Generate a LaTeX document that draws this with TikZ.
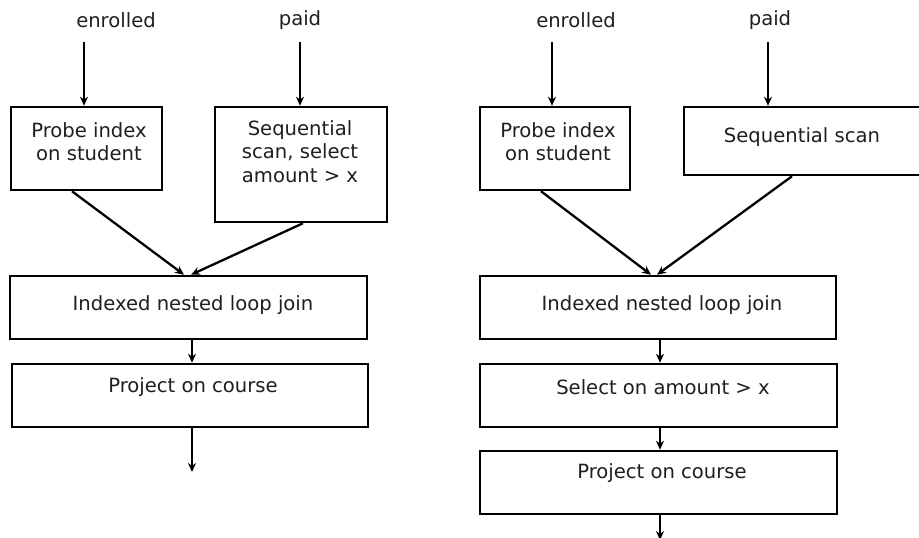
\documentclass[tikz,border=0pt]{standalone}
\usepackage{fontspec}
\setmainfont{DejaVu Sans}
\usetikzlibrary{arrows.meta}
\begin{document}
\begin{tikzpicture}[x=1pt,y=-1pt,
  box/.style={draw=black, line width=2.5pt, inner sep=0pt, rectangle},
  lbl/.style={inner sep=0pt, align=center, font=\fontsize{19.6}{23.5}\selectfont, text=black!88},
  arr/.style={draw=black, line width=2.3pt, -{Stealth[length=9pt,width=8pt]}}]
\useasboundingbox (0,0) rectangle (919,538);
\clip (0,0) rectangle (919,538);
\fill[white] (0,0) rectangle (919,538);

% ---------- left plan ----------
\node[lbl] (en1) at (116,20) {enrolled};
\node[lbl] (pa1) at (300,20) {paid};
\coordinate (en1s) at (84,42);
\coordinate (pa1s) at (300,42);

\node[box, minimum width=151pt, minimum height=83pt] (probe1) at (86.5,148.5) {};
\node[lbl] (probe1t) at (89,141.5) {Probe index\\on student};
\node[box, minimum width=172pt, minimum height=115pt] (seq1) at (301,164.5) {};
\node[lbl] (seq1t) at (300,151.5) {Sequential\\scan, select\\amount > x};
\node[box, minimum width=357pt, minimum height=63pt] (join1) at (188.5,307.5) {};
\node[lbl] (join1t) at (193,305) {Indexed nested loop join};
\node[box, minimum width=356pt, minimum height=63pt] (proj1) at (190,395.5) {};
\node[lbl] (proj1t) at (193,387) {Project on course};
\coordinate (out1) at (192,472);

\draw[arr] (en1s) -- (en1s |- probe1.north);
\draw[arr] (pa1s) -- (pa1s |- seq1.north);
\draw[arr] (probe1.south -| 72,0) -- (join1.north -| 184,0);
\draw[arr] (seq1.south -| 303,0) -- (join1.north -| 191,0);
\draw[arr] (join1.south -| 192,0) -- (proj1.north -| 192,0);
\draw[arr] (proj1.south -| 192,0) -- (out1);

% ---------- right plan ----------
\node[lbl] (en2) at (576,20) {enrolled};
\node[lbl] (pa2) at (770,20) {paid};
\coordinate (en2s) at (552,42);
\coordinate (pa2s) at (768,42);

\node[box, minimum width=150pt, minimum height=83pt] (probe2) at (555,148.5) {};
\node[lbl] (probe2t) at (558,141.5) {Probe index\\on student};
\node[box, minimum width=250pt, minimum height=68pt] (seq2) at (809,141) {};
\node[lbl] (seq2t) at (802,137) {Sequential scan};
\node[box, minimum width=356pt, minimum height=63pt] (join2) at (658,307.5) {};
\node[lbl] (join2t) at (662,305) {Indexed nested loop join};
\node[box, minimum width=357pt, minimum height=63pt] (sel2) at (658.5,395.5) {};
\node[lbl] (sel2t) at (663,387) {Select on amount > x};
\node[box, minimum width=357pt, minimum height=63pt] (proj2) at (658.5,482.5) {};
\node[lbl] (proj2t) at (662,473) {Project on course};
\coordinate (out2) at (660,540);

\draw[arr] (en2s) -- (en2s |- probe2.north);
\draw[arr] (pa2s) -- (pa2s |- seq2.north);
\draw[arr] (probe2.south -| 541,0) -- (join2.north -| 651,0);
\draw[arr] (seq2.south -| 792,0) -- (join2.north -| 657,0);
\draw[arr] (join2.south -| 660,0) -- (sel2.north -| 660,0);
\draw[arr] (sel2.south -| 660,0) -- (proj2.north -| 660,0);
\draw[arr] (proj2.south -| 660,0) -- (out2);
\end{tikzpicture}
\end{document}
